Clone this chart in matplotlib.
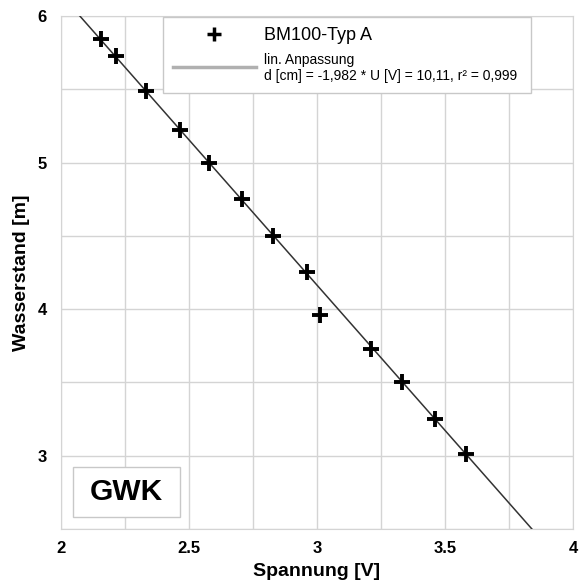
import matplotlib
matplotlib.use("Agg")
import matplotlib.pyplot as plt
from matplotlib.lines import Line2D
from matplotlib.patches import Rectangle
import numpy as np

plt.rcParams['font.family'] = ['Liberation Sans', 'DejaVu Sans']

spannung = [2.156, 2.215, 2.332, 2.465, 2.578, 2.707, 2.828, 2.961, 3.012, 3.211, 3.332, 3.461, 3.582]
wasserstand = [5.84, 5.73, 5.49, 5.22, 5.00, 4.75, 4.50, 4.25, 3.96, 3.73, 3.50, 3.25, 3.01]
fit_slope = -1.982
fit_intercept = 10.11
series_label = "BM100-Typ A"
fit_label = "lin. Anpassung\nd [cm] = -1,982 * U [V] = 10,11, r\u00b2 = 0,999"

fig = plt.figure(figsize=(5.83, 5.86), dpi=100)
ax = fig.add_axes([0.1046, 0.0973, 0.8782, 0.8754])
ax.set_xlim(2, 4)
ax.set_ylim(2.5, 6)

xf = np.array([2.0, 4.0])
ax.plot(xf, fit_slope * xf + fit_intercept, color='#333333', lw=1.1, zorder=3)
ax.plot(spannung, wasserstand, linestyle='none', marker='+', markersize=12,
        markeredgewidth=2.8, color='black', zorder=4)

ax.set_xticks([2, 2.5, 3, 3.5, 4])
ax.set_xticklabels(['2', '2.5', '3', '3.5', '4'])
ax.set_xticks(np.arange(2, 4.01, 0.25), minor=True)
ax.set_yticks([3, 4, 5, 6])
ax.set_yticks(np.arange(2.5, 6.01, 0.5), minor=True)
ax.grid(True, which='both', color='#d4d4d4', lw=1.0)
ax.tick_params(which='both', length=0)
ax.tick_params(axis='x', pad=9)
ax.tick_params(axis='y', pad=10)
for lbl in ax.get_xticklabels() + ax.get_yticklabels():
    lbl.set_fontweight('bold')
    lbl.set_fontsize(12)
for s in ax.spines.values():
    s.set_color('#d4d4d4')

ax.set_xlabel('Spannung [V]', fontsize=14, fontweight='bold', labelpad=5)
ax.set_ylabel('Wasserstand [m]', fontsize=14, fontweight='bold', labelpad=6)

handles = [Line2D([], [], linestyle='none', marker='+', markersize=10, markeredgewidth=2.5, color='black'),
           Line2D([], [], color='#b0b0b0', lw=2.5)]
leg = ax.legend(handles, [series_label, fit_label], loc='upper left',
                bbox_to_anchor=(0.199, 0.856, 0.719, 0.142), mode='expand',
                borderaxespad=0, fancybox=False, framealpha=1,
                edgecolor='#c8c8c8', handlelength=4.6, fontsize=13,
                borderpad=0.55, labelspacing=0.5, handletextpad=0.45)
texts = leg.get_texts()
texts[1].set_fontsize(10)
texts[1].set_linespacing(1.15)

ax.add_patch(Rectangle((0.0234, 0.0234), 0.209, 0.0975, transform=ax.transAxes,
                       facecolor='white', edgecolor='#c8c8c8', lw=1.0, zorder=5))
ax.text(0.128, 0.072, 'GWK', transform=ax.transAxes, fontsize=21.5, fontweight='bold',
        ha='center', va='center', zorder=6)

fig.savefig('out.png', dpi=100)
